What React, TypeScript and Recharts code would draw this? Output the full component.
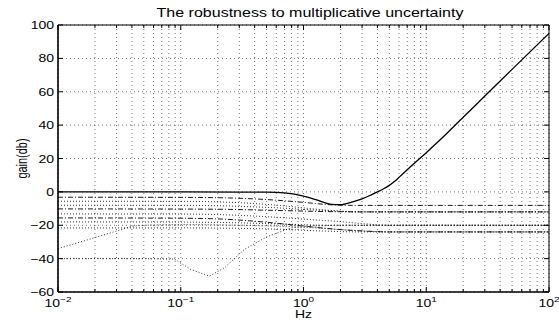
import React from 'react';
import { LineChart, Line, XAxis, YAxis, CartesianGrid, ReferenceLine } from 'recharts';

const W = 559;
const H = 322;
const MARGIN = { top: 25, right: 10, left: 0, bottom: 0 };
const Y_AXIS_W = 58;
const X_AXIS_H = 30;
const PLOT_TOP = MARGIN.top;
const PLOT_BOTTOM = H - MARGIN.bottom - X_AXIS_H;
const PLOT_LEFT = MARGIN.left + Y_AXIS_W;
const PLOT_RIGHT = W - MARGIN.right;

const FONT = '"Liberation Sans", Arial, Helvetica, sans-serif';
const SQUASH = 0.78;

// axis ticks
const decades = [0.01, 0.1, 1, 10, 100];
const decadeExp = ['\u22122', '\u22121', '0', '1', '2'];
const minorSteps = [2, 3, 4, 5, 6, 7, 8, 9];
const yTicks = [-60, -40, -20, 0, 20, 40, 60, 80, 100];

// nominal loop (solid)
const mainHz = [0.01, 0.1, 0.3, 0.5, 0.7, 1, 1.3, 1.7, 2, 2.5, 3, 3.6, 4, 4.5, 5, 5.5, 6, 7, 8, 10, 12.6, 20, 30, 50, 70, 100];
const mainDb = [0, 0, -0.1, -0.2, -0.6, -2.6, -5, -7.5, -7.7, -6, -4.2, -1.6, 0, 1.9, 3.9, 6.2, 8.7, 13.2, 17.2, 23.5, 30.3, 44.7, 57.4, 73.4, 83.9, 95];

// bounds (dash-dot)
const boundHz = [0.01, 0.1, 0.2, 0.5, 1, 1.5, 2, 3, 5, 100];
const bound1Db = [-3.2, -3.3, -3.5, -4.6, -6.3, -7.5, -8, -8.1, -8.1, -8.1];
const bound2Db = [-10.2, -10.3, -10.4, -11, -11.5, -11.8, -11.9, -12, -12, -12];
const bound3Db = [-15.6, -15.8, -16.2, -18.2, -20.5, -21.8, -22.6, -23.4, -24, -24];

// perturbed loops (dotted)
const pertHz = [0.01, 0.1, 0.2, 0.4, 0.7, 1, 1.5, 2, 3, 5, 100];
const pert1Db = [-5.6, -5.7, -6, -7, -8.4, -9.6, -10.8, -11.5, -12, -12, -12];
const pert2Db = [-8, -8.1, -8.3, -9, -9.8, -10.5, -11.2, -11.7, -12, -12, -12];
const pert3Db = [-13.2, -13.3, -13.6, -14.5, -15.5, -16.3, -17.2, -17.8, -19, -20, -20];
const pert4Db = [-18, -18.1, -18.3, -18.8, -19.3, -19.7, -20, -20, -20, -20, -20];
const pert5Db = [-21.6, -21.6, -21.7, -22, -22.5, -23, -23.5, -23.8, -24, -24, -24];

const riseHz = [0.01, 0.02, 0.03, 0.045, 0.1, 0.3, 1, 2, 5, 100];
const riseDb = [-34, -27.4, -23.5, -20.2, -19.6, -20, -21.2, -22.6, -24, -24];

const dipHz = [0.01, 0.05, 0.089, 0.121, 0.171, 0.227, 0.33, 0.5, 0.79, 1.2, 2, 5, 100];
const dipDb = [-40, -40, -40.3, -46.5, -50.5, -45.5, -34.5, -27, -21.6, -20.4, -20, -20, -20];

const toPoints = (hz: number[], db: number[]) => hz.map((f, i) => ({ hz: f, db: db[i] }));

const xTicks = decades.flatMap((d, i) =>
  i < decades.length - 1 ? [d, ...minorSteps.map((m) => +(d * m).toPrecision(3))] : [d]
);

const XTick = (props: any) => {
  const { x, payload } = props;
  const idx = decades.findIndex((d) => Math.abs(d - payload.value) / d < 1e-6);
  const len = idx >= 0 ? 5 : 3;
  return (
    <g>
      <line x1={x} x2={x} y1={PLOT_BOTTOM} y2={PLOT_BOTTOM - len} stroke="#000" />
      <line x1={x} x2={x} y1={PLOT_TOP} y2={PLOT_TOP + len} stroke="#000" />
      {idx >= 0 && (
        <g transform={`translate(${x},${PLOT_BOTTOM + 15}) scale(1,${SQUASH})`}>
          <text textAnchor="middle" fontFamily={FONT} fontSize={14} fill="#000">
            10
            <tspan dy={-7} fontSize={10}>
              {decadeExp[idx]}
            </tspan>
          </text>
        </g>
      )}
    </g>
  );
};

const YTick = (props: any) => {
  const { y, payload } = props;
  const v = payload.value as number;
  const label = v < 0 ? `\u2212${Math.abs(v)}` : `${v}`;
  return (
    <g>
      <line x1={PLOT_LEFT} x2={PLOT_LEFT + 5} y1={y} y2={y} stroke="#000" />
      <line x1={PLOT_RIGHT} x2={PLOT_RIGHT - 5} y1={y} y2={y} stroke="#000" />
      <g transform={`translate(${PLOT_LEFT - 4},${y + 4}) scale(1,${SQUASH})`}>
        <text textAnchor="end" fontFamily={FONT} fontSize={14} fill="#000">
          {label}
        </text>
      </g>
    </g>
  );
};

const XLabel = () => (
  <g transform={`translate(${(PLOT_LEFT + PLOT_RIGHT) / 2},${PLOT_BOTTOM + 26}) scale(1,${SQUASH})`}>
    <text textAnchor="middle" fontFamily={FONT} fontSize={14} fill="#000">
      Hz
    </text>
  </g>
);

const YLabel = () => (
  <g transform={`translate(27,${(PLOT_TOP + PLOT_BOTTOM) / 2}) rotate(-90) scale(${SQUASH},1)`}>
    <text textAnchor="middle" fontFamily={FONT} fontSize={14} fill="#000">
      gain(db)
    </text>
  </g>
);

const dotted = { stroke: '#000', strokeWidth: 0.9, strokeDasharray: '1 2', strokeOpacity: 0.9 };
const dashDot = { stroke: '#000', strokeWidth: 0.9, strokeDasharray: '5 2 1 2' };

export default function App() {
  return (
    <div style={{ position: 'absolute', left: 0, top: 0, width: W, height: H, background: '#fff' }}>
      <div
        style={{
          position: 'absolute',
          left: 110,
          top: 7,
          width: 400,
          textAlign: 'center',
          fontFamily: FONT,
          fontSize: 16,
          lineHeight: '16px',
          transform: `scaleY(${SQUASH})`,
          transformOrigin: 'top',
          color: '#000',
          whiteSpace: 'nowrap',
        }}
      >
        The robustness to multiplicative uncertainty
      </div>
      <LineChart width={W} height={H} margin={MARGIN}>
        <CartesianGrid stroke="#000" strokeOpacity={0.55} strokeDasharray="1 3" />
        <XAxis
          dataKey="hz"
          type="number"
          scale="log"
          domain={[0.01, 100]}
          allowDataOverflow
          ticks={xTicks}
          interval={0}
          tick={<XTick />}
          tickLine={false}
          axisLine={{ stroke: '#000', strokeWidth: 1.6 }}
          height={X_AXIS_H}
          label={<XLabel />}
        />
        <YAxis
          type="number"
          domain={[-60, 100]}
          ticks={yTicks}
          interval={0}
          tick={<YTick />}
          tickLine={false}
          axisLine={{ stroke: '#000', strokeWidth: 1.6 }}
          width={Y_AXIS_W}
          label={<YLabel />}
        />
        <ReferenceLine y={100} stroke="#000" strokeWidth={1} />
        <ReferenceLine x={100} stroke="#000" strokeWidth={1} />

        <Line data={toPoints(riseHz, riseDb)} dataKey="db" type="monotone" dot={false} isAnimationActive={false} {...dotted} />
        <Line data={toPoints(dipHz, dipDb)} dataKey="db" type="linear" dot={false} isAnimationActive={false} {...dotted} />
        <Line data={toPoints(pertHz, pert1Db)} dataKey="db" type="monotone" dot={false} isAnimationActive={false} {...dotted} />
        <Line data={toPoints(pertHz, pert2Db)} dataKey="db" type="monotone" dot={false} isAnimationActive={false} {...dotted} />
        <Line data={toPoints(pertHz, pert3Db)} dataKey="db" type="monotone" dot={false} isAnimationActive={false} {...dotted} />
        <Line data={toPoints(pertHz, pert4Db)} dataKey="db" type="monotone" dot={false} isAnimationActive={false} {...dotted} />
        <Line data={toPoints(pertHz, pert5Db)} dataKey="db" type="monotone" dot={false} isAnimationActive={false} {...dotted} />

        <Line data={toPoints(boundHz, bound1Db)} dataKey="db" type="monotone" dot={false} isAnimationActive={false} {...dashDot} />
        <Line data={toPoints(boundHz, bound2Db)} dataKey="db" type="monotone" dot={false} isAnimationActive={false} {...dashDot} />
        <Line data={toPoints(boundHz, bound3Db)} dataKey="db" type="monotone" dot={false} isAnimationActive={false} {...dashDot} />

        <Line
          data={toPoints(mainHz, mainDb)}
          dataKey="db"
          type="monotone"
          dot={false}
          stroke="#000"
          strokeWidth={1.3}
          isAnimationActive={false}
        />
      </LineChart>
    </div>
  );
}
